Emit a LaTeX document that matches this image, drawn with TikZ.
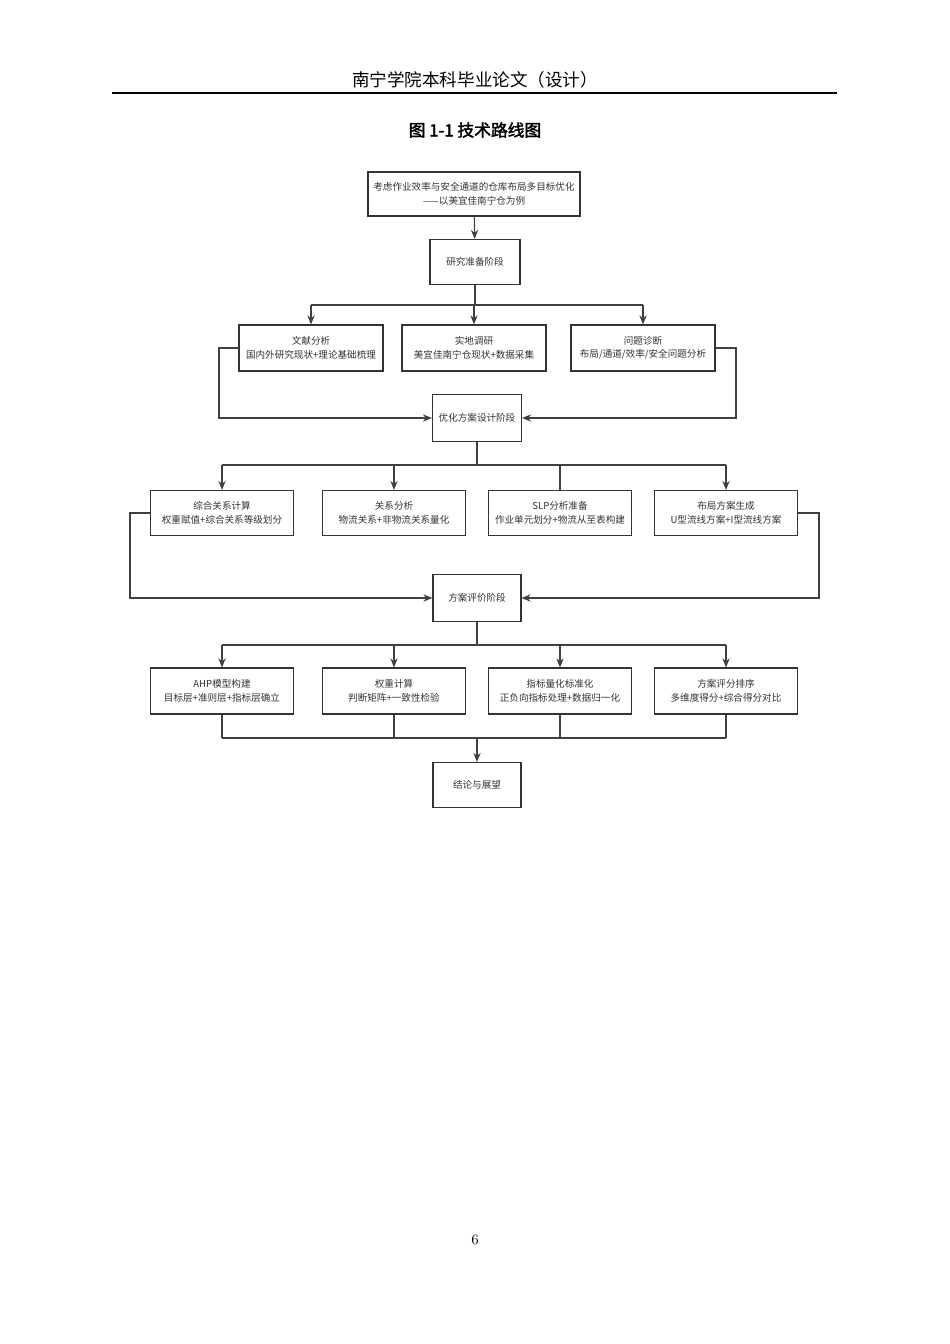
\documentclass[tikz,border=0pt]{standalone}
\usepackage{fontspec}
\newfontfamily\cjk[AutoFakeBold=2]{Noto Sans CJK SC}
\usetikzlibrary{arrows.meta,positioning,calc}
\def\px{0.6263pt}

\begin{document}
\begin{tikzpicture}[x=0.6263pt,y=-0.6263pt,
  box/.style={draw=black!80, line width=0.7pt, inner sep=0pt, align=center,
    font=\cjk\fontsize{6}{8.5}\selectfont, text=black!80},
  link/.style={draw=black!75, line width=0.7pt},
  arr/.style={link, -{Stealth[length=2mm, width=1.6mm]}}]
  % Page
  \path[use as bounding box, fill=white] (0,0) rectangle (950,1344);
  \node[font=\cjk\fontsize{11}{13}\selectfont] (head) at (475,80) {南宁学院本科毕业论文（设计）};
  \draw[line width=0.9pt] (112,93) -- (837,93);
  \node[font=\cjk\bfseries\fontsize{10.5}{12}\selectfont] (cap) at (475,130) {图 1-1 技术路线图};
  \node[font=\fontsize{9}{10}\selectfont] (pnum) at (475,1240) {6};

  % Boxes
  \node[box, minimum width={212*\px}, minimum height={44*\px}] (title) at (474,194)
    {考虑作业效率与安全通道的仓库布局多目标优化\\——以美宜佳南宁仓为例};
  \node[box, minimum width={90*\px}, minimum height={45*\px}] (prep) at (475,262) {研究准备阶段};
  \foreach \n/\x/\t in {lit/311/{文献分析\\国内外研究现状+理论基础梳理},
                        site/474/{实地调研\\美宜佳南宁仓现状+数据采集},
                        diag/643/{问题诊断\\布局/通道/效率/安全问题分析}}
    \node[box, minimum width={144*\px}, minimum height={46*\px}] (\n) at (\x,348) {\t};
  \node[box, minimum width={89*\px}, minimum height={47*\px}] (design) at (477,418) {优化方案设计阶段};
  \foreach \n/\x/\t in {comb/222/{综合关系计算\\权重赋值+综合关系等级划分},
                        rel/394/{关系分析\\物流关系+非物流关系量化},
                        slp/560/{SLP分析准备\\作业单元划分+物流从至表构建},
                        gen/726/{布局方案生成\\U型流线方案+I型流线方案}}
    \node[box, minimum width={143*\px}, minimum height={45*\px}] (\n) at (\x,513) {\t};
  \node[box, minimum width={88*\px}, minimum height={47*\px}] (eval) at (477,598) {方案评价阶段};
  \foreach \n/\x/\t in {ahp/222/{AHP模型构建\\目标层+准则层+指标层确立},
                        wt/394/{权重计算\\判断矩阵+一致性检验},
                        idx/560/{指标量化标准化\\正负向指标处理+数据归一化},
                        rank/726/{方案评分排序\\多维度得分+综合得分对比}}
    \node[box, minimum width={143*\px}, minimum height={46*\px}] (\n) at (\x,691) {\t};
  \node[box, minimum width={88*\px}, minimum height={45*\px}] (end) at (477,785) {结论与展望};

  % Stage 1
  \draw[arr] (title) -- (prep);
  \draw[link] (prep.south) -- (prep.south |- 0,305);
  \draw[link] (311,305) -- (643,305);
  \foreach \n in {lit,site,diag}
    \draw[arr] (\n.north |- 0,305) -- (\n);
  \draw[arr] (lit.west) -| (219,418) -- (design.west);
  \draw[arr] (diag.east) -| (736,418) -- (design.east);

  % Stage 2
  \draw[link] (design.south) -- (design.south |- 0,465);
  \draw[link] (222,465) -- (726,465);
  \draw[arr] (comb.north |- 0,465) -- (comb);
  \draw[arr] (rel.north |- 0,465) -- (rel);
  \draw[link] (slp.north |- 0,465) -- (slp);
  \draw[arr] (gen.north |- 0,465) -- (gen);
  \draw[arr] (comb.west) -| (130,598) -- (eval.west);
  \draw[arr] (gen.east) -| (819,598) -- (eval.east);

  % Stage 3
  \draw[link] (eval.south) -- (eval.south |- 0,645);
  \draw[link] (222,645) -- (726,645);
  \foreach \n in {ahp,wt,idx,rank}
    \draw[arr] (\n.north |- 0,645) -- (\n);
  \foreach \n in {ahp,wt,idx,rank}
    \draw[link] (\n.south) -- (\n.south |- 0,738);
  \draw[link] (222,738) -- (726,738);
  \draw[arr] (end.north |- 0,738) -- (end);
\end{tikzpicture}
\end{document}
